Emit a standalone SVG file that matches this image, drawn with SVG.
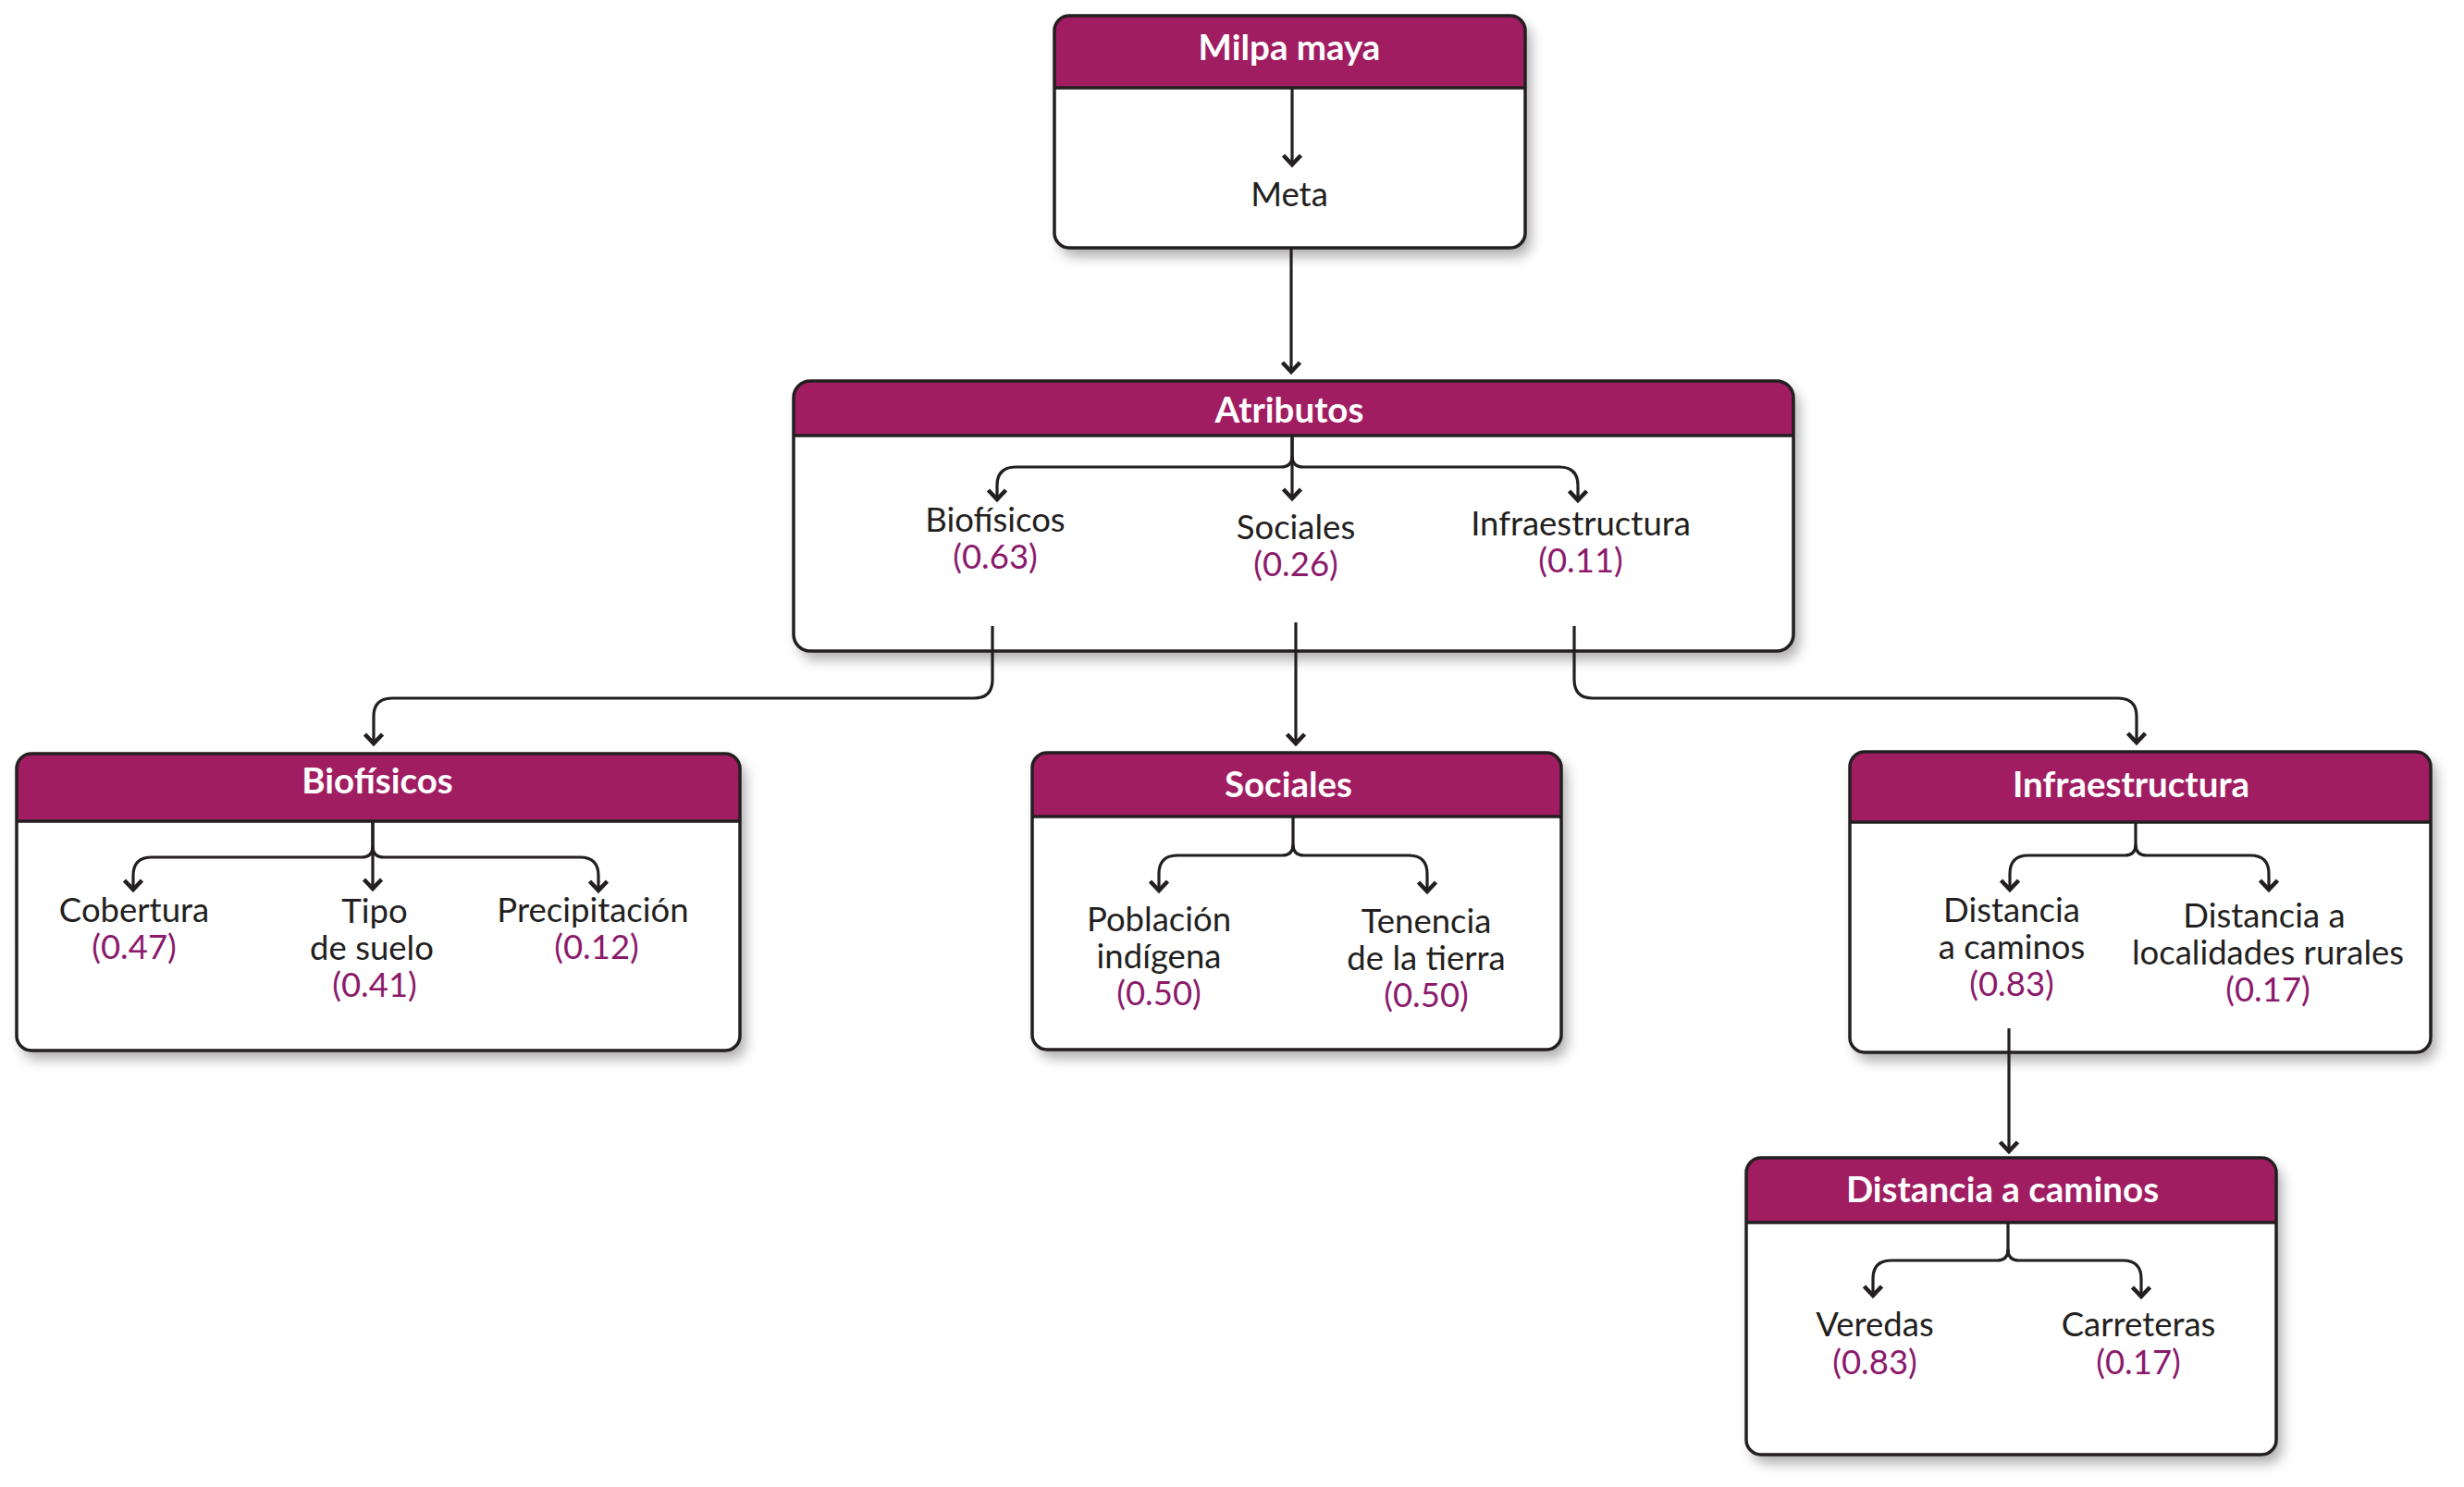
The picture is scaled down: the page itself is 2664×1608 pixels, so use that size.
<svg xmlns="http://www.w3.org/2000/svg" width="2664" height="1608" viewBox="0 0 2664 1608">
<defs>
<filter id="sh" x="-10%" y="-10%" width="125%" height="130%">
<feDropShadow dx="6" dy="9" stdDeviation="7" flood-color="#000" flood-opacity="0.33"/>
</filter>
<marker id="ah" viewBox="-15 -13 19 26" refX="0" refY="0" markerWidth="19" markerHeight="26" markerUnits="userSpaceOnUse" orient="auto">
<path d="M-10,-9.5 L0,0 L-10,9.5" fill="none" stroke="#231f20" stroke-width="4.6"/>
</marker>
<style>
.bg{fill:#fff;filter:url(#sh)}
.hd{fill:#a01d62}
.sep{stroke:#231f20;stroke-width:3.5}
.ol{fill:none;stroke:#231f20;stroke-width:3.5}
.ttl{font-family:Lato,"Liberation Sans",sans-serif;font-weight:700;font-size:38.5px;fill:#fff;text-anchor:middle}
.tx{font-family:Lato,"Liberation Sans",sans-serif;font-size:36.5px;fill:#231f20;text-anchor:middle}
.nm{font-family:Lato,"Liberation Sans",sans-serif;font-size:36.5px;fill:#8b1a6b;text-anchor:middle}
.cn{fill:none;stroke:#231f20;stroke-width:3.2}
.ar{marker-end:url(#ah)}
</style>
</defs>
<rect width="2664" height="1608" fill="#fff"/>

<g id="milpa-maya">
<rect class="bg" x="1140" y="17" width="509" height="251" rx="16"/>
<path class="hd" d="M1140,95 V33 Q1140,17 1156,17 H1633 Q1649,17 1649,33 V95 Z"/>
<line class="sep" x1="1140" y1="95" x2="1649" y2="95"/>
<rect class="ol" x="1140" y="17" width="509" height="251" rx="16"/>
<text class="ttl" x="1394" y="65">Milpa maya</text>
<text class="tx" x="1394" y="223">Meta</text>
</g>

<g id="atributos">
<rect class="bg" x="858" y="412" width="1081" height="292" rx="18"/>
<path class="hd" d="M858,471 V430 Q858,412 876,412 H1921 Q1939,412 1939,430 V471 Z"/>
<line class="sep" x1="858" y1="471" x2="1939" y2="471"/>
<rect class="ol" x="858" y="412" width="1081" height="292" rx="18"/>
<text class="ttl" x="1394" y="457">Atributos</text>
<text class="tx" x="1076" y="575">Biofísicos</text>
<text class="nm" x="1076" y="615">(0.63)</text>
<text class="tx" x="1401" y="583">Sociales</text>
<text class="nm" x="1401" y="623">(0.26)</text>
<text class="tx" x="1709" y="579">Infraestructura</text>
<text class="nm" x="1709" y="619">(0.11)</text>
</g>

<g id="biofisicos">
<rect class="bg" x="18" y="815" width="782" height="321" rx="16"/>
<path class="hd" d="M18,888 V831 Q18,815 34,815 H784 Q800,815 800,831 V888 Z"/>
<line class="sep" x1="18" y1="888" x2="800" y2="888"/>
<rect class="ol" x="18" y="815" width="782" height="321" rx="16"/>
<text class="ttl" x="408" y="858">Biofísicos</text>
<text class="tx" x="145" y="997">Cobertura</text>
<text class="nm" x="145" y="1037">(0.47)</text>
<text class="tx" x="405" y="998">Tipo</text>
<text class="tx" x="402" y="1038">de suelo</text>
<text class="nm" x="405" y="1078">(0.41)</text>
<text class="tx" x="641" y="997">Precipitación</text>
<text class="nm" x="645" y="1037">(0.12)</text>
</g>

<g id="sociales">
<rect class="bg" x="1116" y="814" width="572" height="321" rx="16"/>
<path class="hd" d="M1116,883 V830 Q1116,814 1132,814 H1672 Q1688,814 1688,830 V883 Z"/>
<line class="sep" x1="1116" y1="883" x2="1688" y2="883"/>
<rect class="ol" x="1116" y="814" width="572" height="321" rx="16"/>
<text class="ttl" x="1393" y="862">Sociales</text>
<text class="tx" x="1253" y="1007">Población</text>
<text class="tx" x="1253" y="1047">indígena</text>
<text class="nm" x="1253" y="1087">(0.50)</text>
<text class="tx" x="1542" y="1009">Tenencia</text>
<text class="tx" x="1542" y="1049">de la tierra</text>
<text class="nm" x="1542" y="1089">(0.50)</text>
</g>

<g id="infraestructura">
<rect class="bg" x="2000" y="813" width="628" height="325" rx="16"/>
<path class="hd" d="M2000,889 V829 Q2000,813 2016,813 H2612 Q2628,813 2628,829 V889 Z"/>
<line class="sep" x1="2000" y1="889" x2="2628" y2="889"/>
<rect class="ol" x="2000" y="813" width="628" height="325" rx="16"/>
<text class="ttl" x="2304" y="862">Infraestructura</text>
<text class="tx" x="2175" y="997">Distancia</text>
<text class="tx" x="2175" y="1037">a caminos</text>
<text class="nm" x="2175" y="1077">(0.83)</text>
<text class="tx" x="2448" y="1003">Distancia a</text>
<text class="tx" x="2452" y="1043">localidades rurales</text>
<text class="nm" x="2452" y="1083">(0.17)</text>
</g>

<g id="distancia-a-caminos">
<rect class="bg" x="1888" y="1252" width="573" height="321" rx="16"/>
<path class="hd" d="M1888,1322 V1268 Q1888,1252 1904,1252 H2445 Q2461,1252 2461,1268 V1322 Z"/>
<line class="sep" x1="1888" y1="1322" x2="2461" y2="1322"/>
<rect class="ol" x="1888" y="1252" width="573" height="321" rx="16"/>
<text class="ttl" x="2165" y="1300">Distancia a caminos</text>
<text class="tx" x="2027" y="1445">Veredas</text>
<text class="nm" x="2027" y="1486">(0.83)</text>
<text class="tx" x="2312" y="1445">Carreteras</text>
<text class="nm" x="2312" y="1486">(0.17)</text>
</g>

<g id="connectors">
<path class="cn ar" d="M1397,95 V178"/>
<path class="cn ar" d="M1396,268 V402"/>
<path class="cn ar" d="M1397,471 V493 Q1397,505 1385,505 H1098 Q1078,505 1078,525 V540"/>
<path class="cn ar" d="M1397,471 V539"/>
<path class="cn ar" d="M1397,493 Q1397,505 1409,505 H1686 Q1706,505 1706,525 V541"/>
<path class="cn ar" d="M1073,677 V735 Q1073,755 1053,755 H424 Q404,755 404,775 V804"/>
<path class="cn ar" d="M1401,673 V804"/>
<path class="cn ar" d="M1702,677 V735 Q1702,755 1722,755 H2290 Q2310,755 2310,775 V803"/>
<path class="cn ar" d="M403,888 V915 Q403,927 391,927 H164 Q144,927 144,947 V962"/>
<path class="cn ar" d="M403,888 V961"/>
<path class="cn ar" d="M403,915 Q403,927 415,927 H627 Q647,927 647,947 V963"/>
<path class="cn ar" d="M1398,883 V913 Q1398,925 1386,925 H1273 Q1253,925 1253,945 V963"/>
<path class="cn ar" d="M1398,913 Q1398,925 1410,925 H1523 Q1543,925 1543,945 V964"/>
<path class="cn ar" d="M2309,889 V913 Q2309,925 2297,925 H2193 Q2173,925 2173,945 V962"/>
<path class="cn ar" d="M2309,913 Q2309,925 2321,925 H2433 Q2453,925 2453,945 V962"/>
<path class="cn ar" d="M2172,1112 V1245"/>
<path class="cn ar" d="M2171,1322 V1351 Q2171,1363 2159,1363 H2045 Q2025,1363 2025,1383 V1401"/>
<path class="cn ar" d="M2171,1351 Q2171,1363 2183,1363 H2295 Q2315,1363 2315,1383 V1402"/>
</g>
</svg>
